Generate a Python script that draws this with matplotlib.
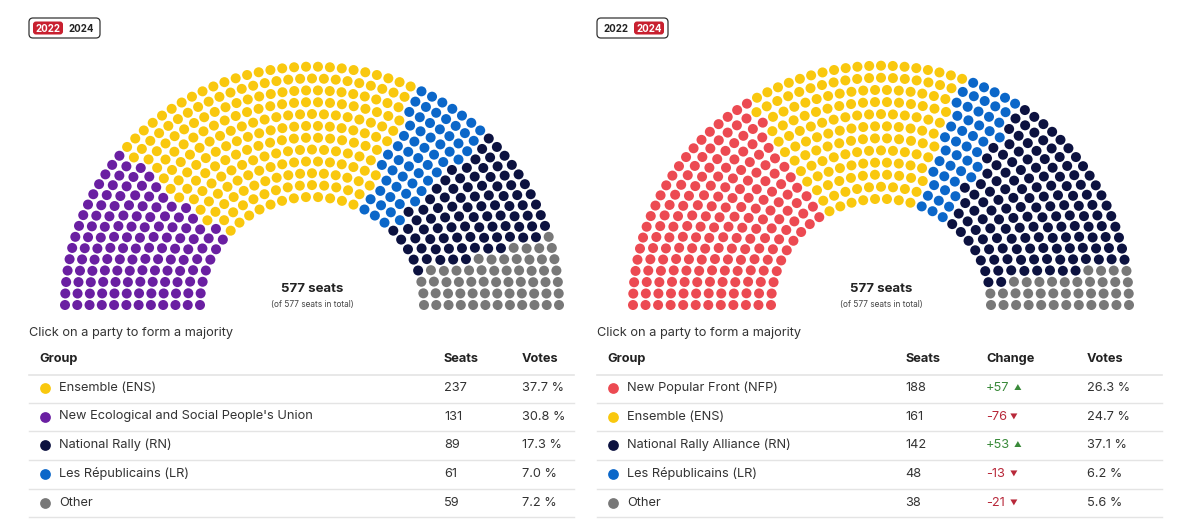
import matplotlib.pyplot as plt
from matplotlib.patches import FancyBboxPatch
import numpy as np

plt.rcParams['font.family'] = ['Inter', 'DejaVu Sans']

# seat order in the hemicycle, left to right
seat_counts_2022 = [131, 237, 61, 89, 59]
seat_colors_2022 = ['#6a1fa2', '#f9c80e', '#0b67c9', '#0c1240', '#787878']
seat_counts_2024 = [188, 161, 48, 142, 38]
seat_colors_2024 = ['#ec4a52', '#f9c80e', '#0b67c9', '#0c1240', '#787878']

# table rows
groups_2022 = ['Ensemble (ENS)', "New Ecological and Social People's Union",
               'National Rally (RN)', 'Les Républicains (LR)', 'Other']
colors_2022 = ['#f9c80e', '#6a1fa2', '#0c1240', '#0b67c9', '#787878']
seats_2022 = [237, 131, 89, 61, 59]
votes_2022 = ['37.7 %', '30.8 %', '17.3 %', '7.0 %', '7.2 %']

groups_2024 = ['New Popular Front (NFP)', 'Ensemble (ENS)',
               'National Rally Alliance (RN)', 'Les Républicains (LR)', 'Other']
colors_2024 = ['#ec4a52', '#f9c80e', '#0c1240', '#0b67c9', '#787878']
seats_2024 = [188, 161, 142, 48, 38]
change_2024 = [57, -76, 53, -13, -21]
votes_2024 = ['26.3 %', '24.7 %', '37.1 %', '6.2 %', '5.6 %']

fig = plt.figure(figsize=(12, 5.3), dpi=100)
ax = fig.add_axes([0, 0, 1, 1])
ax.set_xlim(0, 1200)
ax.set_ylim(530, 0)
ax.axis('off')


def hemicycle(cx, cy, r0, r1, counts, colors, rows=12, squash=0.965):
    radii = np.linspace(r0, r1, rows)
    total = sum(counts)
    raw = total * radii / radii.sum()
    n = np.floor(raw).astype(int)
    rem = total - n.sum()
    n[np.argsort(-(raw - n))[:rem]] += 1
    seats = []
    for r, k in zip(radii, n):
        for t in np.linspace(np.pi, 0, k):
            seats.append((t, r))
    seats.sort(key=lambda p: (-round(p[0], 6), p[1]))
    cols = []
    for c, k in zip(colors, counts):
        cols += [c] * k
    th = np.array([s[0] for s in seats])
    rr = np.array([s[1] for s in seats])
    ax.scatter(cx + rr * np.cos(th), cy - squash * rr * np.sin(th), s=52, c=cols,
               linewidths=0, zorder=3)
    ax.text(cx, cy - 16, '577 seats', ha='center', va='center',
            fontsize=9.5, fontweight='bold', color='#222222')
    ax.text(cx, cy - 1, '(of 577 seats in total)', ha='center', va='center',
            fontsize=6, color='#444444')


hemicycle(312, 305, 112, 247, seat_counts_2022, seat_colors_2022)
hemicycle(881, 305, 110, 248, seat_counts_2024, seat_colors_2024)


def badge(x0, active):
    ax.add_patch(FancyBboxPatch((x0, 18), 71, 20, boxstyle='round,pad=0,rounding_size=4',
                                fc='white', ec='#333333', lw=0.9, zorder=2))
    xs = [x0 + 19, x0 + 52]
    for i, yr in enumerate(['2022', '2024']):
        if i == active:
            ax.add_patch(FancyBboxPatch((xs[i] - 15, 21.5), 30, 13,
                                        boxstyle='round,pad=0,rounding_size=3',
                                        fc='#c8202f', ec='none', zorder=3))
            ax.text(xs[i], 28.5, yr, ha='center', va='center', fontsize=7,
                    fontweight='bold', color='white', zorder=4)
        else:
            ax.text(xs[i], 28.5, yr, ha='center', va='center', fontsize=7,
                    fontweight='bold', color='#222222', zorder=4)


badge(29, 0)
badge(597, 1)

row_y = [388, 416.5, 445, 474, 502.5]


def table(x0, x1, groups, colors, seats, votes, seat_x, vote_x, change=None, change_x=None):
    ax.text(x0, 333, 'Click on a party to form a majority', fontsize=9.2,
            va='center', color='#333333')
    ax.text(x0 + 10, 359, 'Group', fontsize=9.2, fontweight='bold', va='center', color='#222222')
    ax.text(seat_x, 359, 'Seats', fontsize=9.2, fontweight='bold', va='center', color='#222222')
    if change is not None:
        ax.text(change_x, 359, 'Change', fontsize=9.2, fontweight='bold', va='center',
                color='#222222')
    ax.text(vote_x, 359, 'Votes', fontsize=9.2, fontweight='bold', va='center', color='#222222')
    ax.plot([x0, x1], [374.5, 374.5], color='#e4e4e4', lw=1.2)
    for i, y in enumerate(row_y):
        ax.scatter([x0 + 16], [y], s=60, c=colors[i], linewidths=0)
        ax.text(x0 + 30, y, groups[i], fontsize=9.2, va='center', color='#333333')
        ax.text(seat_x, y, str(seats[i]), fontsize=9.2, va='center', color='#333333')
        if change is not None:
            v = change[i]
            if v > 0:
                ax.text(change_x, y, f'+{v}', fontsize=9.2, va='center', color='#3a8a3a')
                ax.text(change_x + 28, y, '▲', fontsize=5.5, va='center', color='#3a8a3a')
            else:
                ax.text(change_x, y, f'-{abs(v)}', fontsize=9.2, va='center', color='#b8283a')
                ax.text(change_x + 24, y, '▼', fontsize=5.5, va='center', color='#b8283a')
        ax.text(vote_x, y, votes[i], fontsize=9.2, va='center', color='#333333')
        ax.plot([x0, x1], [y + 14.5, y + 14.5], color='#e4e4e4', lw=1)


table(29, 574, groups_2022, colors_2022, seats_2022, votes_2022, 444, 522)
table(597, 1162, groups_2024, colors_2024, seats_2024, votes_2024, 905, 1087,
      change=change_2024, change_x=986)

fig.savefig('out.png', dpi=100, facecolor='white')
